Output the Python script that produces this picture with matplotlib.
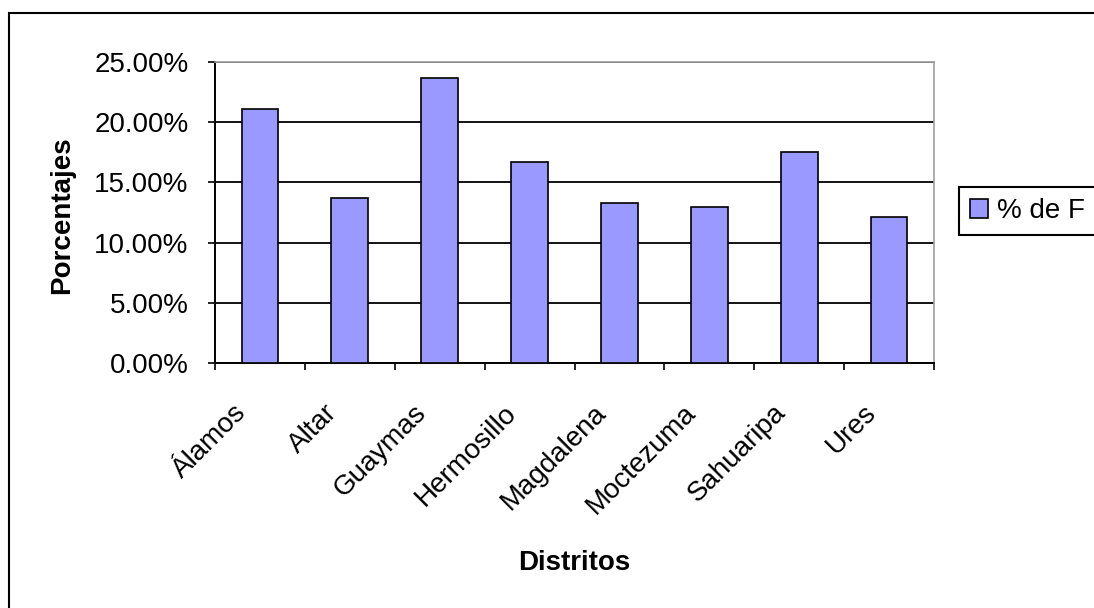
import matplotlib
matplotlib.use("Agg")
import matplotlib.pyplot as plt
from matplotlib.patches import Rectangle
from matplotlib.transforms import ScaledTranslation

plt.rcParams['font.family'] = ['Liberation Sans', 'DejaVu Sans']

distritos = ["Álamos", "Altar", "Guaymas", "Hermosillo", "Magdalena",
             "Moctezuma", "Sahuaripa", "Ures"]
porcentajes = [21.13, 13.67, 23.67, 16.71, 13.26, 12.93, 17.54, 12.15]
serie = "% de F"
yticks = [0, 5, 10, 15, 20, 25]

W, H = 1094, 608
fig = plt.figure(figsize=(W / 100, H / 100), dpi=100)
ax = fig.add_axes([215 / W, 1 - 363 / H, (934 - 215) / W, (363 - 62) / H])

x = list(range(len(distritos)))
ax.bar(x, porcentajes, width=0.41, color="#9999FF", edgecolor="black",
       linewidth=1.2, label=serie, zorder=3)

ax.set_xlim(-0.5, len(distritos) - 0.5)
ax.set_ylim(0, 25)
ax.set_yticks(yticks)
ax.set_yticklabels(["%.2f%%" % v for v in yticks], fontsize=20)
ax.yaxis.grid(True, color="black", linewidth=1.3, zorder=0)
ax.set_axisbelow(True)

# ticks on category boundaries, labels at centers
ax.set_xticks([i - 0.5 for i in range(len(distritos) + 1)])
ax.set_xticklabels([])
ax.set_xticks(x, minor=True)
ax.set_xticklabels(distritos, minor=True, rotation=45, ha="right",
                   va="center", rotation_mode="anchor", fontsize=20)
ax.tick_params(axis="x", which="minor", length=0, pad=33)
ax.tick_params(axis="x", which="major", direction="out", length=5, width=1.2)
ax.tick_params(axis="y", direction="out", length=5, width=1.2, pad=14)
shift = ScaledTranslation(-17 / 100, 0, fig.dpi_scale_trans)
for lab in ax.get_xticklabels(minor=True):
    lab.set_transform(lab.get_transform() + shift)

for s in ["left", "bottom"]:
    ax.spines[s].set_color("black")
    ax.spines[s].set_linewidth(1.4)
for s in ["top", "right"]:
    ax.spines[s].set_color("#a0a0a0")
    ax.spines[s].set_linewidth(1.2)

ax.set_ylabel("Porcentajes", fontsize=20, fontweight="bold")
ax.yaxis.set_label_coords(-0.195, 0.49)
ax.set_xlabel("Distritos", fontsize=20, fontweight="bold")
ax.xaxis.set_label_coords(0.5, -0.622)
ax.xaxis.label.set_va("top")

# legend box is wider than the picture, as in the cropped original
leg = ax.legend(loc="upper left",
                bbox_to_anchor=(959 / W, 1 - 187 / H, 200 / W, 0),
                mode="expand",
                bbox_transform=fig.transFigure, fontsize=20, frameon=True,
                fancybox=False, framealpha=1, edgecolor="black",
                handlelength=0.65, handleheight=0.65, handletextpad=0.32,
                borderpad=0.4, borderaxespad=0)
leg.get_frame().set_linewidth(1.5)

# outer chart frame (cropped on right and bottom)
fig.add_artist(Rectangle((9 / W, -0.5), 2, 1.5 - 13 / H, fill=False,
                         edgecolor="black", linewidth=1.5,
                         transform=fig.transFigure, clip_on=False))

fig.savefig("out.png", dpi=100, facecolor="white")
